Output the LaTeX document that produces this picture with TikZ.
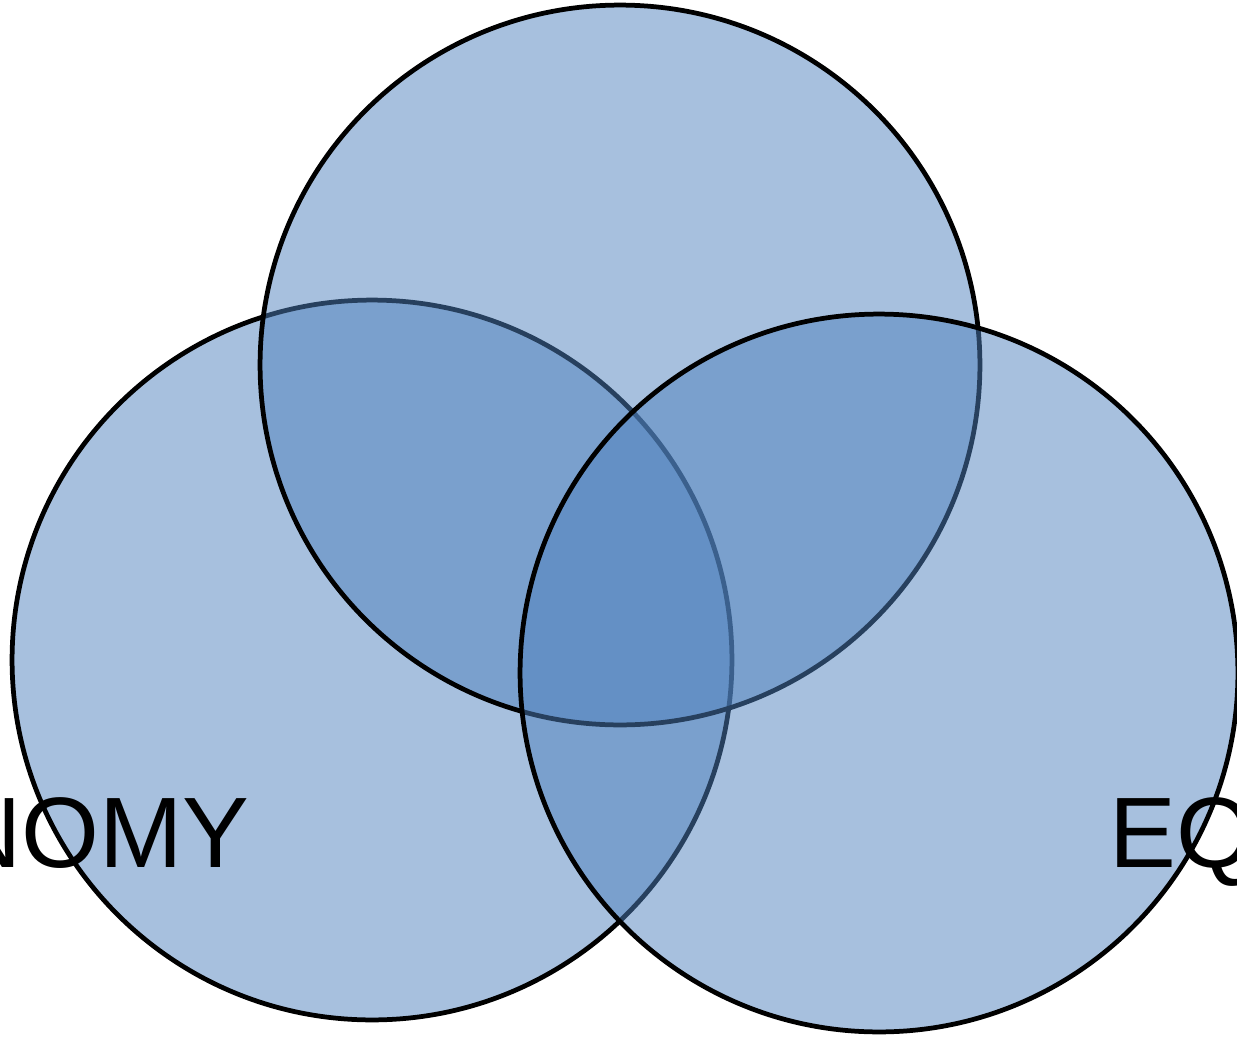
\documentclass[tikz,border=0pt]{standalone}
\usepackage{fontspec}
\setmainfont{Liberation Sans}
\usetikzlibrary{backgrounds}
\definecolor{setblue}{HTML}{4F81BD}

\begin{document}
\begin{tikzpicture}[x=0.02cm,y=-0.02cm]
	% `set' is used for the three overlapping circles.
	% `setlabel' is used for the (clipped) circle captions.
	\tikzstyle{set} = [draw=black,line width=0.095cm,fill=setblue,fill opacity=0.5,shape=circle,inner sep=0pt,minimum size=14.4cm]
	\tikzstyle{setlabel} = [inner sep=0pt,text=black,font=\fontsize{57}{60}\selectfont]
	%
	\useasboundingbox (0,0) rectangle (1237,1038);
	\clip (0,0) rectangle (1237,1038);
	% Draw circles: left first, then top, then right.
	\node[set] (left) at (372,660) {};
	\node[set] (top) at (620,365) {};
	\node[set,minimum size=14.36cm] (right) at (879,673) {};
	% Draw labels.
	\node[setlabel,anchor=base east] (leftlabel) at (250,867) {NOMY};
	\node[setlabel,anchor=base west] (rightlabel) at (1109,867) {EQ};
\end{tikzpicture}
\end{document}
